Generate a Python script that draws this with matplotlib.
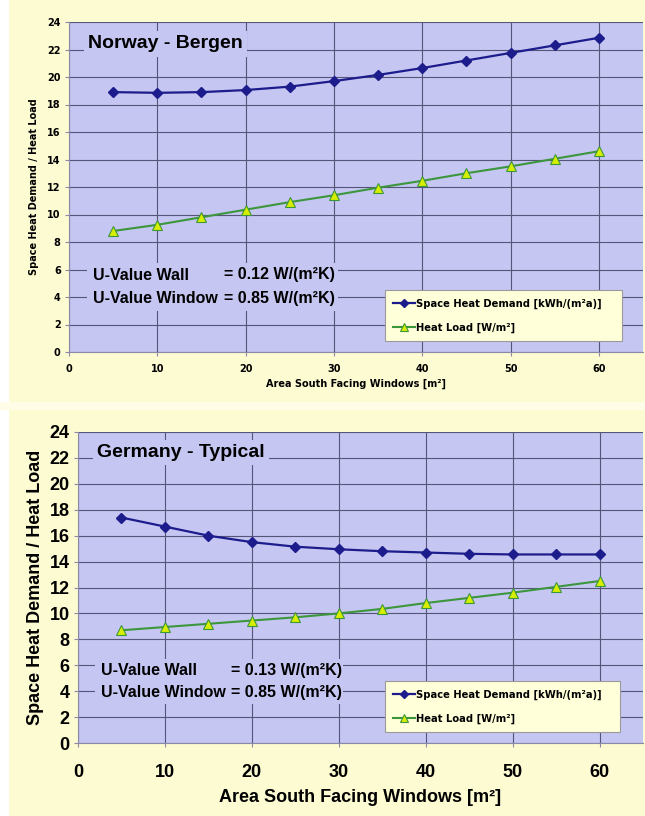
import matplotlib.pyplot as plt
from matplotlib.patches import Rectangle

# ============================================
# DATA
# ============================================

area = [5, 10, 15, 20, 25, 30, 35, 40, 45, 50, 55, 60]

norway_demand = [18.9, 18.85, 18.9, 19.05, 19.3, 19.7, 20.15, 20.65, 21.2, 21.75, 22.3, 22.85]
norway_load = [8.8, 9.25, 9.8, 10.35, 10.9, 11.4, 11.95, 12.45, 13.0, 13.5, 14.05, 14.6]

germany_demand = [17.4, 16.7, 16.0, 15.5, 15.15, 14.95, 14.8, 14.7, 14.6, 14.55, 14.55, 14.55]
germany_load = [8.7, 8.95, 9.2, 9.45, 9.7, 10.0, 10.35, 10.8, 11.2, 11.6, 12.05, 12.5]

x_ticks = [0, 10, 20, 30, 40, 50, 60]
y_ticks = [0, 2, 4, 6, 8, 10, 12, 14, 16, 18, 20, 22, 24]

label_demand = 'Space Heat Demand [kWh/(m²a)]'
label_load = 'Heat Load [W/m²]'
x_title = 'Area South Facing Windows [m²]'
y_title = 'Space Heat Demand / Heat Load'

# ============================================
# STYLE
# ============================================

BG = '#fdfbd2'
PLOT_BG = '#c6c6f2'
GRID = '#55557a'
BLUE = '#1c1c8c'
GREEN = '#3c963c'
TRI = '#d6ee00'
LEGEND_BG = '#ffffd9'

ARIAL = ['Liberation Sans', 'DejaVu Sans']
WIDE = ['DejaVu Sans']

plt.rcParams['font.family'] = ARIAL
plt.rcParams['font.weight'] = 'bold'

fig = plt.figure(figsize=(6.45, 8.16), dpi=100, facecolor=BG)
fig.patches.append(Rectangle((0, 0), 9 / 645, 1, transform=fig.transFigure,
                             facecolor='white', edgecolor='none', zorder=-1))
fig.patches.append(Rectangle((0, 1 - 410 / 816), 1, 8 / 816, transform=fig.transFigure,
                             facecolor='#fffde8', edgecolor='none', zorder=-1))


def draw_panel(ax, demand, load, title, wall, window, axis_font, axis_size,
               xpad, xlabelpad, ylabelpad, legend_box):
    ax.set_facecolor(PLOT_BG)
    ax.set_xlim(0, 65)
    ax.set_ylim(0, 24)
    ax.set_xticks(x_ticks)
    ax.set_yticks(y_ticks)
    ax.grid(True, color=GRID, linewidth=0.8)
    ax.set_axisbelow(True)
    for side in ['top', 'right']:
        ax.spines[side].set_visible(False)
    for side in ['left', 'bottom']:
        ax.spines[side].set_color('#8a8aa8')
    ax.tick_params(length=3, color='#8a8aa8', labelsize=axis_size, pad=3)
    ax.tick_params(axis='x', pad=xpad)
    for lab in ax.get_xticklabels() + ax.get_yticklabels():
        lab.set_family(axis_font)
        lab.set_fontweight('bold')
    ax.set_xlabel(x_title, fontsize=axis_size, fontweight='bold', family=axis_font,
                  labelpad=xlabelpad)
    ax.set_ylabel(y_title, fontsize=axis_size, fontweight='bold', family=axis_font,
                  labelpad=ylabelpad)

    ax.plot(area, demand, color=BLUE, linewidth=1.6, marker='D', markersize=5,
            markerfacecolor=BLUE, markeredgecolor=BLUE, label=label_demand, zorder=3)
    ax.plot(area, load, color=GREEN, linewidth=1.5, marker='^', markersize=7,
            markerfacecolor=TRI, markeredgecolor=GREEN, markeredgewidth=0.8,
            label=label_load, zorder=3)

    ax.text(2.2, 22.4, title, fontsize=14, fontweight='bold', va='center', ha='left',
            bbox=dict(facecolor=PLOT_BG, edgecolor='none', pad=3), zorder=4)

    ax.text(2.7, 5.6, 'U-Value Wall', fontsize=11.5, fontweight='bold', va='center',
            zorder=5)
    ax.text(17.6, 5.6, '= ' + wall, fontsize=11.5, fontweight='bold', va='center',
            zorder=5)
    ax.text(2.7, 3.9, 'U-Value Window', fontsize=11.5, fontweight='bold', va='center',
            zorder=5)
    ax.text(17.6, 3.9, '= ' + window, fontsize=11.5, fontweight='bold', va='center',
            zorder=5)
    ax.add_patch(Rectangle((2.0, 3.0), 30.5 - 2.0, 3.5, facecolor=PLOT_BG,
                           edgecolor='none', zorder=2.5))

    leg = ax.legend(loc='lower left', bbox_to_anchor=legend_box, mode='expand',
                    prop=dict(family=WIDE, size=7.2, weight='bold'),
                    frameon=True, fancybox=False, handlelength=2.2,
                    handletextpad=0.1, labelspacing=1.4, borderpad=0.8,
                    borderaxespad=0, markerscale=0.8)
    leg.get_frame().set_facecolor(LEGEND_BG)
    leg.get_frame().set_edgecolor('#9a9a9a')
    leg.get_frame().set_linewidth(0.8)
    leg.get_frame().set_alpha(1)


# top panel: Norway
ax1 = fig.add_axes([69 / 645, 1 - 352 / 816, (643 - 69) / 645, (352 - 22) / 816])
draw_panel(ax1, norway_demand, norway_load, 'Norway - Bergen',
           '0.12 W/(m²K)', '0.85 W/(m²K)', WIDE, 7, 6, 3, 6,
           ((385 - 69) / 574, (352 - 341) / 330, (622 - 385) / 574, (341 - 280) / 330))

# bottom panel: Germany
ax2 = fig.add_axes([78 / 645, 1 - 743 / 816, (643 - 78) / 645, (743 - 432) / 816])
draw_panel(ax2, germany_demand, germany_load, 'Germany - Typical',
           '0.13 W/(m²K)', '0.85 W/(m²K)', ARIAL, 13, 12, 6, 4,
           ((385 - 78) / 565, (743 - 732) / 311, (620 - 385) / 565, (732 - 687) / 311))

fig.savefig('out.png', dpi=100, facecolor=BG)
